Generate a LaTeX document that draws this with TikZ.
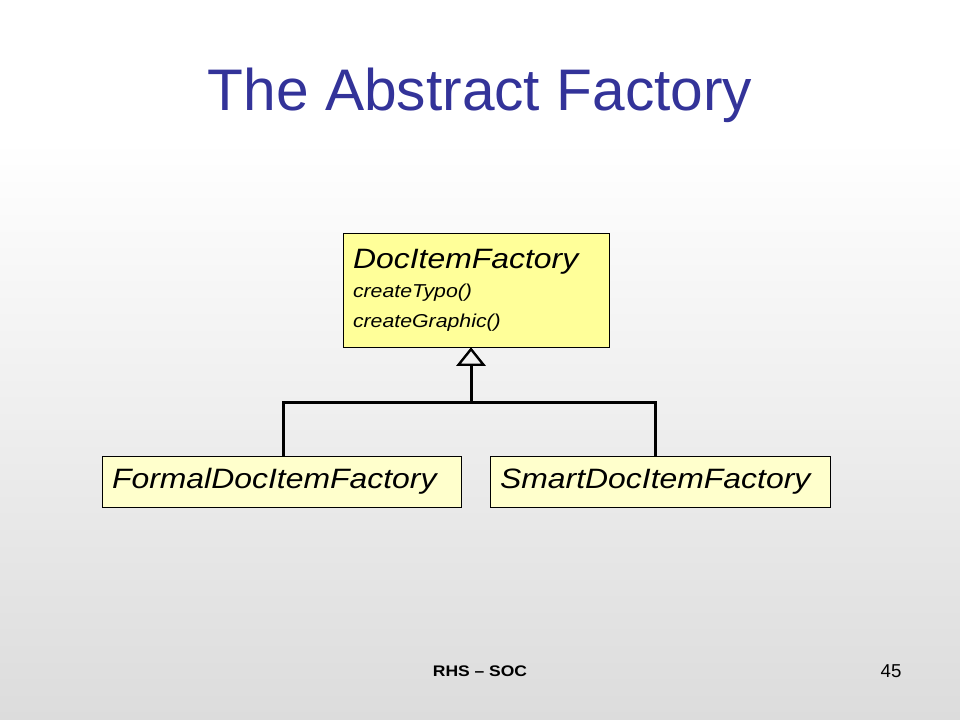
\documentclass[tikz,border=0pt]{standalone}
\usepackage{fontspec}
\setmainfont{Liberation Sans}
\newfontfamily\boxfont[FakeStretch=1.14,Ligatures=TeX]{Liberation Sans}
\usetikzlibrary{arrows.meta}
\definecolor{titleblue}{RGB}{51,51,153}
\definecolor{slidegray}{RGB}{220,220,220}
\definecolor{classyellow}{RGB}{255,255,153}
\definecolor{leafyellow}{RGB}{255,255,204}
\begin{document}
\begin{tikzpicture}[x=0.75pt,y=-0.75pt,
  classbox/.style={draw,thin,inner xsep=7.5pt,inner ysep=0pt,anchor=center,align=left},
  inherit/.style={line width=2.25pt}]
\useasboundingbox (0,0) rectangle (960,720);
\fill[white] (0,0) rectangle (960,140);
\shade[top color=white,bottom color=slidegray] (0,140) rectangle (960,720);

\node[anchor=base,text=titleblue,font=\fontsize{44}{52}\selectfont] (title) at (480,111) {The Abstract Factory};

% abstract factory and its two concrete ones
\node[classbox,fill=classyellow,minimum width=199.5pt,minimum height=85.5pt,
  text width=184.5pt,font=\boxfont\itshape\fontsize{14}{22}\selectfont] (factory) at (476,290)
  {{\fontsize{21}{22}\selectfont DocItemFactory}\\
   createTypo()\\ createGraphic()\par\vspace{6pt}};

\node[classbox,fill=leafyellow,minimum width=269.25pt,minimum height=38.25pt,
  text width=254.25pt,font=\boxfont\itshape\fontsize{21}{25}\selectfont] (formal) at (281.5,481.5)
  {FormalDocItemFactory};
\node[classbox,fill=leafyellow,minimum width=255pt,minimum height=38.25pt,
  text width=240pt,font=\boxfont\itshape\fontsize{21}{25}\selectfont] (smart) at (660,481.5)
  {SmartDocItemFactory};

\coordinate (joint) at (471,402);
\coordinate (lbend) at (283,402);
\coordinate (rbend) at (655,402);
\draw[inherit,{Triangle[open,width=22pt,length=14pt,line width=1.8pt]}-] (joint |- factory.south) -- (joint);
\draw[inherit] (lbend |- formal.north) -- (lbend) -- (rbend) -- (rbend |- smart.north);

\node[anchor=base,font=\boxfont\fontsize{11.5}{13}\selectfont\bfseries] (footer) at (480,676) {RHS – SOC};
\node[anchor=base,font=\fontsize{14}{16}\selectfont] (page) at (891,677) {45};
\end{tikzpicture}
\end{document}
